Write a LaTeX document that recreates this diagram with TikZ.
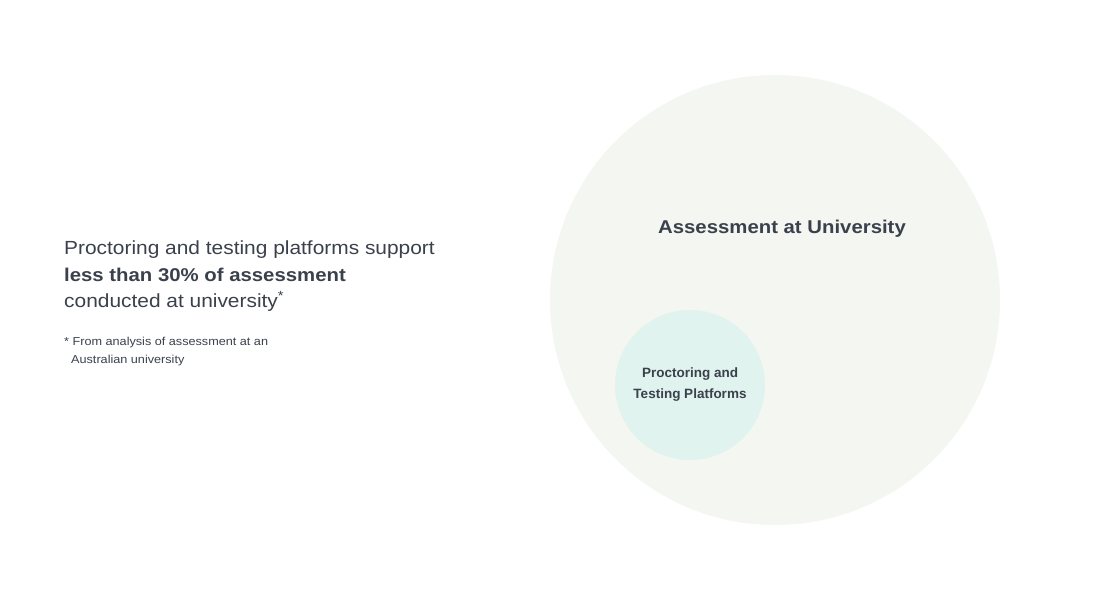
\documentclass[tikz,border=0pt]{standalone}
\usepackage{fontspec}
\setmainfont{Liberation Sans}
\newfontfamily\widefont[FakeStretch=1.1]{Liberation Sans}
\usepackage{xcolor}
\usetikzlibrary{positioning}

\definecolor{inkgray}{HTML}{3B414C}
\definecolor{outerfill}{HTML}{F4F6F1}
\definecolor{innerfill}{HTML}{E0F3EE}

\begin{document}
\begin{tikzpicture}[x=1pt, y=-1pt,
    blob/.style={circle, inner sep=0pt},
    lead/.style={anchor=base west, inner sep=0pt, text=inkgray, font=\widefont\fontsize{19}{22}\selectfont},
    note/.style={anchor=base west, inner sep=0pt, text=inkgray, font=\widefont\fontsize{11.5}{14}\selectfont},
    label/.style={align=center, inner sep=0pt, text=inkgray}]
    \useasboundingbox[fill=white] (0,0) rectangle (1100,600);

    % circles
    \node[blob, fill=outerfill, minimum size=450pt] (univ) at (775,300) {};
    \node[blob, fill=innerfill, minimum size=150pt] (proc) at (690,385) {};

    % circle labels
    \node[label, anchor=base, font=\widefont\bfseries\fontsize{18.5}{22}\selectfont] (univtext) at (782,233) {Assessment at University};
    \node[label, font=\bfseries\fontsize{13.5}{21}\selectfont] (proctext) at (proc) {Proctoring and\\Testing Platforms};

    % left text
    \node[lead] (lineA) at (64,254) {Proctoring and testing platforms support};
    \node[lead, font=\widefont\bfseries\fontsize{18.5}{22}\selectfont] (lineB) at (64,281) {less than 30\% of assessment};
    \node[lead] (lineC) at (64,307) {conducted at university\textsuperscript{*}};

    % footnote
    \node[note] (noteA) at (64,345) {* From analysis of assessment at an};
    \node[note] (noteB) at (71,363) {Australian university};
\end{tikzpicture}
\end{document}
